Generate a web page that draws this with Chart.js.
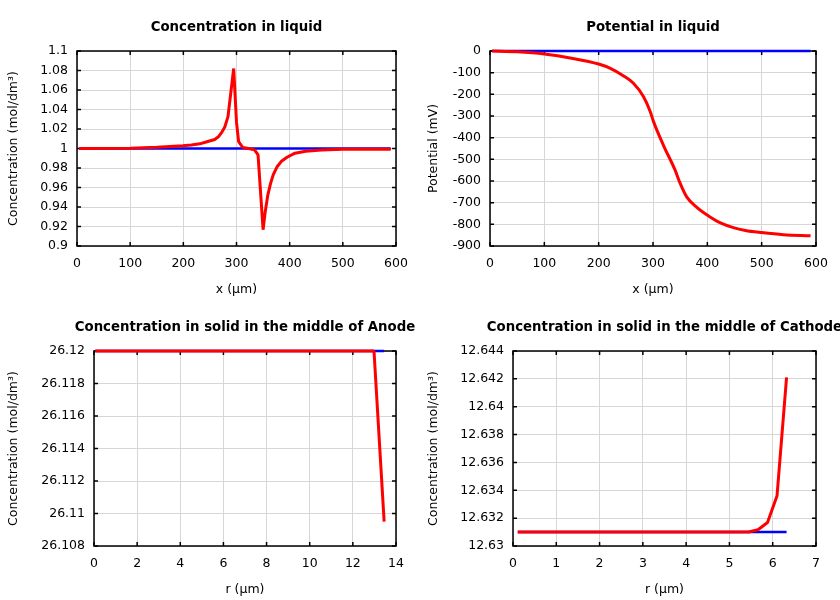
<!DOCTYPE html>
<html>
<head>
<meta charset="utf-8">
<script src="https://cdn.jsdelivr.net/npm/chart.js@4.4.1/dist/chart.umd.min.js"></script>
<style>
  body { margin: 0; background: #fff; }
  .cell { position: absolute; width: 420px; height: 300px; }
</style>
</head>
<body>
<div class="cell" style="left:0;top:0"><canvas id="liqConcChart" width="420" height="300"></canvas></div>
<div class="cell" style="left:420px;top:0"><canvas id="liqPotChart" width="420" height="300"></canvas></div>
<div class="cell" style="left:0;top:300px"><canvas id="anodeChart" width="420" height="300"></canvas></div>
<div class="cell" style="left:420px;top:300px"><canvas id="cathodeChart" width="420" height="300"></canvas></div>
<script>
// concentration in liquid (mol/dm3) along x (um)
const liqX = [4, 100, 150, 199, 215, 231, 246, 259, 266, 271.5, 278, 284, 294.7, 300, 304, 312, 320, 334, 340.5, 350, 354, 359, 364, 369, 376, 384, 395, 410, 430, 460, 500, 590]
const liqConc = [1.0, 1.0003, 1.0012, 1.0027, 1.0035, 1.0048, 1.0072, 1.0092, 1.012, 1.016, 1.022, 1.0327, 1.082, 1.027, 1.0071, 1.001, 1.0003, 0.9986, 0.9935, 0.9167, 0.935, 0.9525, 0.964, 0.973, 0.981, 0.9866, 0.991, 0.9952, 0.9972, 0.9984, 0.9992, 0.9993]
const liqInitX = [4, 590]
const liqConcInit = [1, 1]

// potential in liquid (mV)
const potX = [4, 50, 100, 150, 200, 221.5, 246, 264, 282.6, 295, 301, 319, 340.7, 350, 362, 380.6, 405, 423, 448, 470, 500, 540, 590]
const potLiq = [0, -4, -14, -33, -60, -80, -115, -149, -211, -280, -326, -434, -550, -611, -673, -722, -766, -792, -815, -828, -838, -848, -853]
const potInit = [0, 0]

// solid concentration, anode middle
const anodeR = [0.06, 12.98, 13.45]
const anodeConc = [26.12, 26.12, 26.1095]
const anodeInitR = [0.06, 13.45]
const anodeInit = [26.12, 26.12]

// solid concentration, cathode middle
const cathodeR = [0.11, 5.44, 5.66, 5.88, 6.10, 6.32]
const cathodeConc = [12.631, 12.631, 12.63117, 12.63169, 12.63361, 12.64211]
const cathodeInitR = [0.11, 6.32]
const cathodeInit = [12.631, 12.631]

// tick values
const liqXTicks = [0, 100, 200, 300, 400, 500, 600]
const liqConcTicks = [0.9, 0.92, 0.94, 0.96, 0.98, 1, 1.02, 1.04, 1.06, 1.08, 1.1]
const potTicks = [-900, -800, -700, -600, -500, -400, -300, -200, -100, 0]
const anodeRTicks = [0, 2, 4, 6, 8, 10, 12, 14]
const anodeTicks = [26.108, 26.11, 26.112, 26.114, 26.116, 26.118, 26.12]
const cathodeRTicks = [0, 1, 2, 3, 4, 5, 6, 7]
const cathodeTicks = [12.63, 12.632, 12.634, 12.636, 12.638, 12.64, 12.642, 12.644]

Chart.defaults.font.family = '"DejaVu Sans", sans-serif'
Chart.defaults.font.size = 12.5
Chart.defaults.color = '#000'

const toXY = (xs, ys) => xs.map((x, i) => ({x: x, y: ys[i]}))

// gnuplot style frame, inner ticks and a title centred over the plot box
const framePlugin = {
  id: 'frame',
  beforeDatasetsDraw(chart, args, opts) {
    const {ctx, chartArea: a, scales} = chart
    ctx.save()
    ctx.strokeStyle = '#000'
    ctx.lineWidth = 1.5
    ctx.strokeRect(a.left, a.top, a.right - a.left, a.bottom - a.top)
    ctx.beginPath()
    scales.x.ticks.forEach(t => {
      const px = scales.x.getPixelForValue(t.value)
      ctx.moveTo(px, a.top); ctx.lineTo(px, a.top + 4)
      ctx.moveTo(px, a.bottom); ctx.lineTo(px, a.bottom - 4)
    })
    scales.y.ticks.forEach(t => {
      const py = scales.y.getPixelForValue(t.value)
      ctx.moveTo(a.left, py); ctx.lineTo(a.left + 4, py)
      ctx.moveTo(a.right, py); ctx.lineTo(a.right - 4, py)
    })
    ctx.stroke()
    ctx.font = 'bold 13.3px "DejaVu Sans"'
    ctx.textAlign = 'center'
    ctx.textBaseline = 'middle'
    ctx.fillStyle = '#000'
    ctx.fillText(opts.title, (a.left + a.right) / 2, 27.5)
    ctx.restore()
  }
}

const makeChart = (id, cfg) => {
  const line = (xs, ys, color, width, order) => ({
    data: toXY(xs, ys),
    borderColor: color,
    backgroundColor: color,
    borderWidth: width,
    borderJoinStyle: 'bevel',
    pointRadius: 0,
    tension: 0,
    cubicInterpolationMode: cfg.smooth ? 'monotone' : 'default',
    clip: false,
    order: order
  })
  new Chart(document.getElementById(id), {
    type: 'line',
    data: {
      datasets: [
        line(cfg.redX, cfg.redY, '#ff0000', 3, 0),
        line(cfg.blueX, cfg.blueY, '#0000ff', 2.5, 1)
      ]
    },
    options: {
      responsive: false,
      animation: false,
      events: [],
      layout: { padding: { top: 51, right: 24, left: 0, bottom: 0 } },
      plugins: {
        legend: { display: false },
        tooltip: { enabled: false },
        frame: { title: cfg.title }
      },
      scales: {
        x: {
          type: 'linear',
          min: cfg.xTicks[0],
          max: cfg.xTicks[cfg.xTicks.length - 1],
          afterBuildTicks: s => { s.ticks = cfg.xTicks.map(v => ({value: v})) },
          afterFit: s => { s.height = 54; s.paddingLeft = 0; s.paddingRight = 0 },
          border: { display: false },
          grid: { color: '#d6d6d6', lineWidth: 1, drawTicks: false },
          ticks: { padding: 10, maxRotation: 0, autoSkip: false, callback: v => String(v) },
          title: { display: true, text: cfg.xTitle, padding: { top: 0, bottom: 3 } }
        },
        y: {
          type: 'linear',
          min: cfg.yTicks[0],
          max: cfg.yTicks[cfg.yTicks.length - 1],
          afterBuildTicks: s => { s.ticks = cfg.yTicks.map(v => ({value: v})) },
          afterFit: s => { s.width = cfg.left; s.paddingTop = 0; s.paddingBottom = 0 },
          border: { display: false },
          grid: { color: '#d6d6d6', lineWidth: 1, drawTicks: false },
          ticks: { padding: 9, autoSkip: false, callback: v => String(v) },
          title: { display: true, text: cfg.yTitle, padding: { top: 6, bottom: 0 } }
        }
      }
    },
    plugins: [framePlugin]
  })
}

makeChart('liqConcChart', {
  title: 'Concentration in liquid', left: 77,
  redX: liqX, redY: liqConc, blueX: liqInitX, blueY: liqConcInit,
  xTicks: liqXTicks, yTicks: liqConcTicks,
  xTitle: 'x (µm)', yTitle: 'Concentration (mol/dm³)'
})
makeChart('liqPotChart', {
  title: 'Potential in liquid', left: 70, smooth: true,
  redX: potX, redY: potLiq, blueX: liqInitX, blueY: potInit,
  xTicks: liqXTicks, yTicks: potTicks,
  xTitle: 'x (µm)', yTitle: 'Potential (mV)'
})
makeChart('anodeChart', {
  title: 'Concentration in solid in the middle of Anode', left: 94,
  redX: anodeR, redY: anodeConc, blueX: anodeInitR, blueY: anodeInit,
  xTicks: anodeRTicks, yTicks: anodeTicks,
  xTitle: 'r (µm)', yTitle: 'Concentration (mol/dm³)'
})
makeChart('cathodeChart', {
  title: 'Concentration in solid in the middle of Cathode', left: 93,
  redX: cathodeR, redY: cathodeConc, blueX: cathodeInitR, blueY: cathodeInit,
  xTicks: cathodeRTicks, yTicks: cathodeTicks,
  xTitle: 'r (µm)', yTitle: 'Concentration (mol/dm³)'
})
</script>
</body>
</html>
